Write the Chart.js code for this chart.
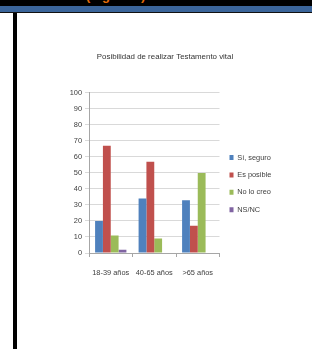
<!DOCTYPE html>
<html>
<head>
<meta charset="utf-8">
<script src="https://cdn.jsdelivr.net/npm/chart.js@4.4.0/dist/chart.umd.min.js"></script>
<style>
  html, body { margin: 0; padding: 0; background: #fff; }
  #page { position: relative; width: 312px; height: 349px; overflow: hidden; background: #fff; }
  #topband { position: absolute; left: 0; top: 0; width: 312px; height: 6px; background: #000; overflow: hidden; }
  #caption { position: absolute; left: 86px; top: -12px; font: bold 13px 'Liberation Sans', sans-serif; color: #e46c0a; white-space: nowrap; }
  #blueband { position: absolute; left: 0; top: 6px; width: 312px; height: 6px; background: #3b659a; }
  #rule { position: absolute; left: 0; top: 12px; width: 312px; height: 1px; background: #111; }
  #sidebar { position: absolute; left: 13px; top: 13px; width: 4px; height: 336px; background: #000; }
  #wrap { position: absolute; left: 0; top: 0; width: 312px; height: 349px; }
</style>
</head>
<body>
<div id="page">
  <div id="topband"><div id="caption">(Figura 4)</div></div>
  <div id="blueband"></div>
  <div id="rule"></div>
  <div id="sidebar"></div>
  <div id="wrap"><canvas id="chart" width="312" height="349"></canvas></div>
</div>
<script>
const categories = ['18-39 años', '40-65 años', '>65 años'];
const seriesNames = ['Sí, seguro', 'Es posible', 'No lo creo', 'NS/NC'];
const siSeguro = [20, 34, 33];
const esPosible = [67, 57, 17];
const noLoCreo = [11, 9, 50];
const nsNc = [2, 0, 0];
const yTicks = [0, 10, 20, 30, 40, 50, 60, 70, 80, 90, 100];

const colors = ['#4f81bd', '#c0504d', '#9bbb59', '#8064a2'];
const values = [siSeguro, esPosible, noLoCreo, nsNc];
const font = "'Liberation Sans', sans-serif";

const ctx = document.getElementById('chart').getContext('2d');
const chart = new Chart(ctx, {
    type: 'bar',
    data: {
        labels: categories,
        datasets: seriesNames.map((name, i) => ({
            label: name,
            data: values[i],
            backgroundColor: colors[i],
            borderWidth: 0,
            categoryPercentage: 0.72,
            barPercentage: 1
        }))
    },
    options: {
        responsive: false,
        animation: false,
        devicePixelRatio: 1,
        layout: { padding: { top: 0, left: 56, right: 38, bottom: 0 } },
        plugins: {
            tooltip: { enabled: false },
            title: {
                display: true,
                text: 'Posibilidad de realizar Testamento vital',
                color: '#333',
                font: { family: font, size: 7.9, weight: 'normal' },
                padding: { top: 52.5, bottom: 31 }
            },
            legend: {
                position: 'right',
                fullSize: false,
                title: { display: true, text: '', font: { size: 1 }, padding: { top: 20, bottom: 0 } },
                labels: {
                    color: '#404040',
                    font: { family: font, size: 7.4 },
                    boxWidth: 4,
                    boxHeight: 5,
                    padding: 10
                }
            }
        },
        scales: {
            x: {
                afterFit: s => { s.height = 96; },
                grid: { drawOnChartArea: false, drawTicks: true, tickLength: 4, color: '#a6a6a6' },
                border: { color: '#a6a6a6' },
                ticks: { color: '#404040', font: { family: font, size: 7.4 }, padding: 11.5, maxRotation: 0, autoSkip: false }
            },
            y: {
                min: 0,
                max: 100,
                afterFit: s => { s.width = 33; },
                afterBuildTicks: s => { s.ticks = yTicks.map(v => ({ value: v })); },
                grid: { color: '#d9d9d9', tickLength: 4 },
                border: { color: '#a6a6a6' },
                ticks: { color: '#404040', font: { family: font, size: 7.4 }, padding: 3 }
            }
        }
    }
});
</script>
</body>
</html>
